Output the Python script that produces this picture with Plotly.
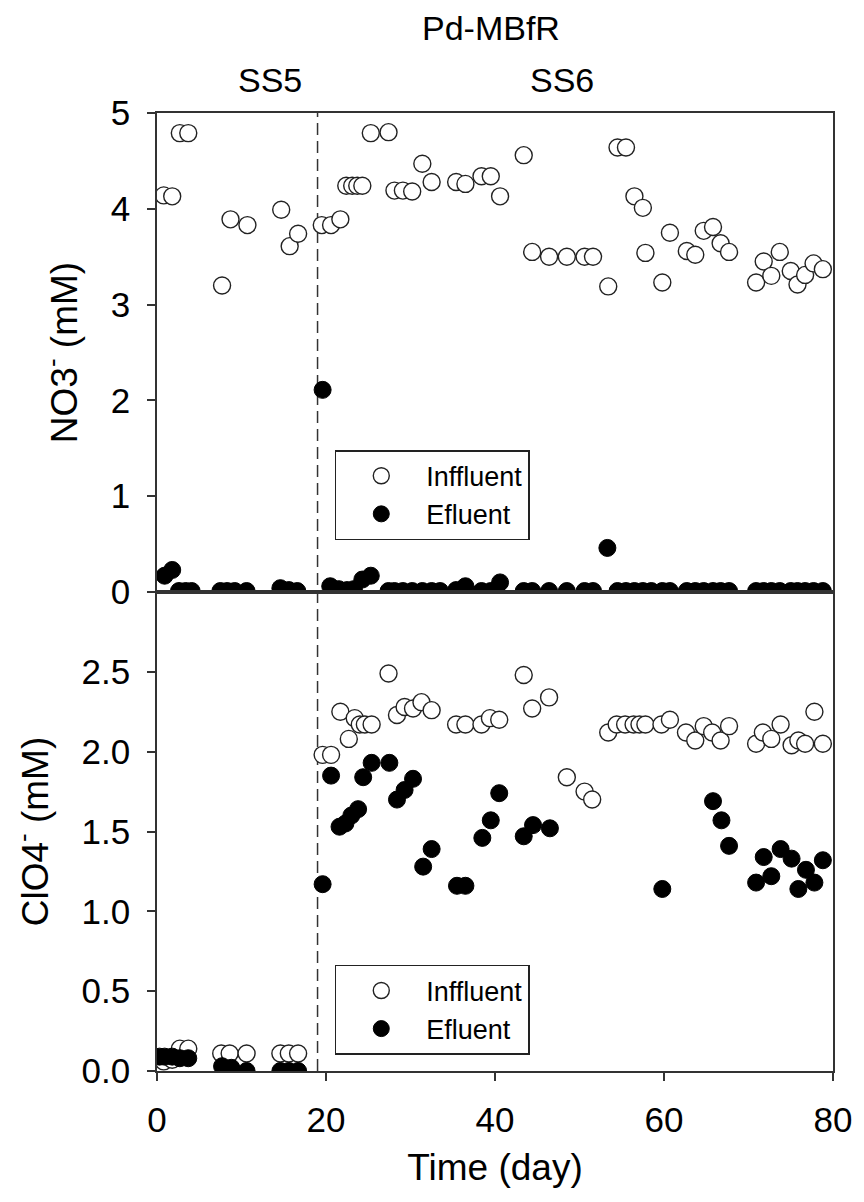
import plotly.graph_objects as go

# ---------------- data ----------------
no3_in_day = [0.8, 1.8, 2.7, 3.7, 7.7, 8.7, 10.7, 14.7, 15.7, 16.7, 19.5, 20.6, 21.7,
              22.4, 23.1, 23.7, 24.3, 25.3, 27.4, 28.1, 29.1, 30.2, 31.4, 32.5, 35.4, 36.5,
              38.4, 39.5, 40.6, 43.4, 44.4, 46.4, 48.5, 50.6, 51.6, 53.4, 54.5, 55.5, 56.5,
              57.5, 57.8, 59.8, 60.7, 62.7, 63.7, 64.7, 65.8, 66.7, 67.7, 70.9, 71.8, 72.7,
              73.7, 75.0, 75.8, 76.7, 77.7, 78.8]
no3_in = [4.14, 4.13, 4.79, 4.79, 3.20, 3.89, 3.83, 3.99, 3.61, 3.74, 3.83, 3.83, 3.89,
          4.24, 4.24, 4.24, 4.24, 4.79, 4.80, 4.19, 4.19, 4.18, 4.47, 4.28, 4.28, 4.26,
          4.34, 4.34, 4.13, 4.56, 3.55, 3.50, 3.50, 3.50, 3.50, 3.19, 4.64, 4.64, 4.13,
          4.01, 3.54, 3.23, 3.75, 3.56, 3.52, 3.77, 3.81, 3.64, 3.55, 3.23, 3.45, 3.30,
          3.55, 3.35, 3.21, 3.31, 3.43, 3.37]

no3_ef_day = [0.9, 1.8, 2.6, 3.4, 4.1, 7.5, 8.3, 9.2, 10.6, 14.6, 15.6, 16.6, 19.6, 20.5,
              21.5, 22.5, 23.3, 24.3, 25.3, 27.4, 28.1, 29.1, 30.2, 31.4, 32.5, 33.5, 35.4,
              36.5, 38.4, 39.5, 40.6, 43.4, 44.4, 46.4, 48.5, 50.6, 51.6, 53.3, 54.5, 55.5,
              56.5, 57.5, 58.5, 59.8, 60.7, 62.7, 63.7, 64.7, 65.8, 66.7, 67.7, 70.9, 71.8,
              72.7, 73.7, 75.0, 75.8, 76.7, 77.7, 78.8]
no3_ef = [0.17, 0.23, 0.01, 0.01, 0.01, 0.01, 0.01, 0.01, 0.01, 0.04, 0.02, 0.01, 2.11, 0.06,
          0.03, 0.02, 0.03, 0.13, 0.17, 0.01, 0.01, 0.01, 0.01, 0.01, 0.01, 0.01, 0.02,
          0.06, 0.01, 0.01, 0.10, 0.01, 0.01, 0.01, 0.01, 0.01, 0.01, 0.46, 0.01, 0.01,
          0.01, 0.01, 0.01, 0.01, 0.01, 0.01, 0.01, 0.01, 0.01, 0.01, 0.01, 0.01, 0.01,
          0.01, 0.01, 0.01, 0.01, 0.01, 0.01, 0.01]

clo4_in_day = [0.8, 1.8, 2.7, 3.7, 7.6, 8.6, 10.6, 14.6, 15.6, 16.7, 19.6, 20.6, 21.7, 22.7,
               23.4, 24.0, 24.6, 25.4, 27.4, 28.4, 29.3, 30.3, 31.3, 32.5, 35.4, 36.5, 38.4,
               39.4, 40.5, 43.4, 44.4, 46.4, 48.5, 50.6, 51.5, 53.4, 54.4, 55.4, 56.4, 57.1,
               57.8, 59.7, 60.7, 62.6, 63.7, 64.7, 65.7, 66.7, 67.7, 70.9, 71.7, 72.7, 73.8,
               75.1, 75.9, 76.7, 77.8, 78.8]
clo4_in = [0.06, 0.07, 0.14, 0.14, 0.11, 0.11, 0.11, 0.11, 0.11, 0.11, 1.98, 1.98, 2.25, 2.08,
           2.21, 2.17, 2.17, 2.17, 2.49, 2.23, 2.28, 2.27, 2.31, 2.26, 2.17, 2.17, 2.17,
           2.21, 2.20, 2.48, 2.27, 2.34, 1.84, 1.75, 1.70, 2.12, 2.17, 2.17, 2.17, 2.17,
           2.17, 2.17, 2.20, 2.12, 2.07, 2.16, 2.12, 2.07, 2.16, 2.05, 2.12, 2.08, 2.17,
           2.04, 2.07, 2.05, 2.25, 2.05]

clo4_ef_day = [0.3, 0.9, 1.8, 2.7, 3.7, 7.7, 8.8, 10.6, 14.6, 15.6, 16.7, 19.6, 20.6, 21.6,
               22.3, 23.0, 23.8, 24.4, 25.4, 27.5, 28.4, 29.3, 30.3, 31.5, 32.5, 35.5, 36.5,
               38.5, 39.5, 40.5, 43.4, 44.5, 46.5, 59.8, 65.8, 66.8, 67.7, 70.9, 71.8, 72.7,
               73.8, 75.1, 75.9, 76.8, 77.8, 78.8]
clo4_ef = [0.09, 0.09, 0.09, 0.08, 0.08, 0.03, 0.02, 0.0, 0.0, 0.0, 0.0, 1.17, 1.85, 1.53,
           1.55, 1.60, 1.64, 1.84, 1.93, 1.93, 1.70, 1.76, 1.83, 1.28, 1.39, 1.16, 1.16,
           1.46, 1.57, 1.74, 1.47, 1.54, 1.52, 1.14, 1.69, 1.57, 1.41, 1.18, 1.34, 1.22,
           1.39, 1.33, 1.14, 1.26, 1.18, 1.32]

x_ticks = [0, 20, 40, 60, 80]
no3_ticks = [0, 1, 2, 3, 4, 5]
clo4_ticks = [0.0, 0.5, 1.0, 1.5, 2.0, 2.5]
phase_boundary = 19

# ---------------- style ----------------
FONT = "Liberation Sans, Arial, sans-serif"
AX = "#333333"
MS = 17

open_marker = dict(size=MS, color="white", line=dict(color="#222222", width=1.4))
fill_marker = dict(size=MS, color="black", line=dict(color="black", width=1))

fig = go.Figure()
fig.add_trace(go.Scatter(x=no3_in_day, y=no3_in, mode="markers", name="Inffluent",
                         marker=open_marker, xaxis="x", yaxis="y", legend="legend"))
fig.add_trace(go.Scatter(x=no3_ef_day, y=no3_ef, mode="markers", name="Efluent",
                         marker=fill_marker, xaxis="x", yaxis="y", legend="legend"))
fig.add_trace(go.Scatter(x=clo4_in_day, y=clo4_in, mode="markers", name="Inffluent",
                         marker=open_marker, xaxis="x2", yaxis="y2", legend="legend2"))
fig.add_trace(go.Scatter(x=clo4_ef_day, y=clo4_ef, mode="markers", name="Efluent",
                         marker=fill_marker, xaxis="x2", yaxis="y2", legend="legend2"))

axis_common = dict(showline=True, linecolor=AX, linewidth=1.5, mirror=True,
                   showgrid=False, zeroline=False,
                   tickfont=dict(family=FONT, size=35, color="black"))

legend_common = dict(xanchor="left", yanchor="top",
                     bordercolor="#222222", borderwidth=1.5, bgcolor="white",
                     font=dict(family=FONT, size=27, color="black"),
                     itemwidth=80, entrywidth=140, entrywidthmode="pixels")

fig.update_layout(
    width=864, height=1202,
    margin=dict(l=157, r=26, t=113, b=131),
    plot_bgcolor="white", paper_bgcolor="white",
    showlegend=True,
    xaxis=dict(domain=[0, 1], range=[0, 80], anchor="y", showticklabels=False,
               ticks="", tickvals=x_ticks, **axis_common),
    yaxis=dict(domain=[0.5, 1], range=[0, 5], anchor="x", tickvals=no3_ticks,
               ticks="outside", ticklen=8, tickwidth=1.5, tickcolor=AX,
               ticklabelstandoff=10,
               title=dict(text="NO3<sup>-</sup> (mM)", font=dict(family=FONT, size=37, color="black"),
                          standoff=22),
               **axis_common),
    xaxis2=dict(domain=[0, 1], range=[0, 80], anchor="y2", tickvals=x_ticks,
                ticks="outside", ticklen=8, tickwidth=1.5, tickcolor=AX,
                ticklabelstandoff=9,
                title=dict(text="Time (day)", font=dict(family=FONT, size=37, color="black"),
                           standoff=16),
                **axis_common),
    yaxis2=dict(domain=[0, 0.5], range=[0, 3], anchor="x2", tickvals=clo4_ticks,
                ticktext=[f"{v:.1f}" for v in clo4_ticks],
                ticks="outside", ticklen=8, tickwidth=1.5, tickcolor=AX,
                ticklabelstandoff=10,
                title=dict(text="ClO4<sup>-</sup> (mM)", font=dict(family=FONT, size=37, color="black"),
                           standoff=22),
                **axis_common),
    legend=dict(x=0.263, y=0.648, **legend_common),
    legend2=dict(x=0.263, y=0.1107, **legend_common),
)

fig.add_shape(type="line", xref="x", yref="paper", x0=phase_boundary, x1=phase_boundary,
              y0=0, y1=1, line=dict(color=AX, width=1.5, dash="12px,6px"), layer="below")

ann_font = dict(family=FONT, size=34, color="black")
fig.add_annotation(text="Pd-MBfR", xref="paper", yref="paper", x=(493 - 157) / 681,
                   y=(1071 - 28) / 958, showarrow=False, font=ann_font, yanchor="middle")
fig.add_annotation(text="SS5", xref="paper", yref="paper", x=(237 - 157) / 681,
                   y=(1071 - 80) / 958, showarrow=False, font=ann_font, yanchor="middle")
fig.add_annotation(text="SS6", xref="paper", yref="paper", x=(565 - 157) / 681,
                   y=(1071 - 80) / 958, showarrow=False, font=ann_font, yanchor="middle")

fig.write_html("out.html")
